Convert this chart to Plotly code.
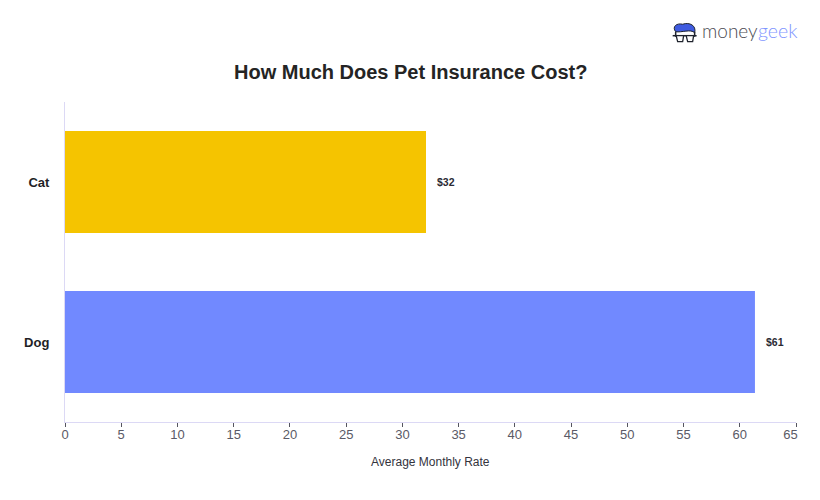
import plotly.graph_objects as go

categories = ["Dog", "Cat"]
values = [61.35, 32.1]
value_labels = ["$61", "$32"]
bar_colors = ["#7189ff", "#f5c400"]
tick_values = list(range(0, 70, 5))
tick_labels = [str(v) for v in tick_values[:-1]] + ["65\u00a0\u00a0\u00a0"]
title_text = "How Much Does Pet Insurance Cost?"
x_title = "Average Monthly Rate"

# the page adds an 8 px body margin, so all layout positions are offset by it
OFF = 8
W, H = 820 - OFF, 500 - OFF
L, R, T, B = 64.5 - OFF, 796.5 - OFF, 101.5 - OFF, 422.5 - OFF


def px(x):
    return (x - OFF - L) / (R - L)


def py(y):
    return 1 - (y - OFF - T) / (B - T)


fig = go.Figure(go.Bar(
    y=categories, x=values, orientation="h",
    marker=dict(color=bar_colors, line_width=0),
    hoverinfo="skip",
))

for c, v, t in zip(categories, values, value_labels):
    fig.add_annotation(x=v, y=c, text=f"<b>{t}</b>", showarrow=False, xanchor="left",
                       xshift=9, yshift=0,
                       font=dict(family="Liberation Sans", size=10.5, color="#2a2a33"))

# title and axis title
fig.add_annotation(xref="paper", yref="paper", x=px(410), y=py(71.5),
                   text=f"<b>{title_text}</b>", showarrow=False, xanchor="center", yanchor="middle",
                   font=dict(family="Liberation Sans", size=20, color="#242424"))
fig.add_annotation(xref="paper", yref="paper", x=px(430), y=py(463),
                   text=x_title, showarrow=False, xanchor="center", yanchor="middle",
                   font=dict(family="Liberation Sans", size=12, color="#33333d"))

# logo wordmark
fig.add_annotation(xref="paper", yref="paper", x=px(760), y=py(30), xanchor="right", yanchor="middle",
                   showarrow=False, text="money",
                   font=dict(family="Lato", size=19, color="#4a4a52", weight=300))
fig.add_annotation(xref="paper", yref="paper", x=px(800.5), y=py(30), xanchor="right", yanchor="middle",
                   showarrow=False, text="geek",
                   font=dict(family="Lato", size=19.5, color="#7f95ff", weight=300))
# logo icon
ink = "#20242e"
logo = [
    dict(type="path", path=f"M {px(676)} {py(31)} C {px(672)} {py(26)} {px(677)} {py(22)} {px(683)} {py(23.5)} "
                           f"C {px(690)} {py(21)} {px(697)} {py(25)} {px(695)} {py(32)} "
                           f"C {px(691)} {py(28)} {px(682)} {py(32)} {px(676)} {py(31)} Z",
         fillcolor="#3f5be0", line=dict(color=ink, width=1)),
    dict(type="path", path=f"M {px(676)} {py(31)} L {px(676)} {py(36)} M {px(695)} {py(31)} L {px(695)} {py(36)}",
         line=dict(color=ink, width=1.5)),
    dict(type="line", x0=px(673), x1=px(697), y0=py(35), y1=py(35), line=dict(color=ink, width=1.5)),
    dict(type="path", path=f"M {px(676.5)} {py(35)} L {px(684)} {py(35)} L {px(683)} {py(41)} L {px(678)} {py(41)} Z",
         line=dict(color=ink, width=1.3), fillcolor="white"),
    dict(type="path", path=f"M {px(686.5)} {py(35)} L {px(694)} {py(35)} L {px(693)} {py(41)} L {px(688)} {py(41)} Z",
         line=dict(color=ink, width=1.3), fillcolor="white"),
]
for s in logo:
    s.update(xref="paper", yref="paper", layer="above")
    fig.add_shape(**s)

fig.update_layout(
    width=W, height=H, autosize=False,
    margin=dict(l=L, r=W - R, t=T, b=H - B, pad=0),
    paper_bgcolor="white", plot_bgcolor="white",
    bargap=0.364, showlegend=False,
    font=dict(family="Liberation Sans"),
    xaxis=dict(range=[0, 65], tickvals=tick_values, ticktext=tick_labels, ticks="outside", ticklen=4, tickwidth=1,
               tickcolor="#555560", showgrid=False, zeroline=False, showline=True,
               linecolor="#dcd9f5", linewidth=1, ticklabelstandoff=-4,
               tickfont=dict(family="Liberation Sans", size=13, color="#5a5a66")),
    yaxis=dict(ticks="", showgrid=False, zeroline=False, showline=True,
               linecolor="#dcd9f5", linewidth=1, ticklabelstandoff=12,
               categoryorder="array", categoryarray=categories,
               tickfont=dict(family="Liberation Sans", size=13, color="#1f1f26", weight="bold")),
)
fig.write_html("out.html", config=dict(displayModeBar=False))
